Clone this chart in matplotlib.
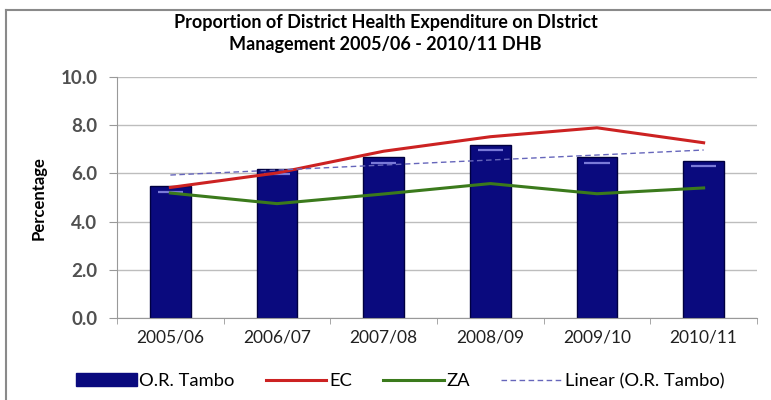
"""
Proportion of district health expenditure on district management,
O.R. Tambo vs EC vs ZA, 2005/06 - 2010/11 -> out.png
"""
import numpy as np
import matplotlib
matplotlib.use("Agg")
import matplotlib.pyplot as plt
from matplotlib.lines import Line2D

years = ["2005/06", "2006/07", "2007/08", "2008/09", "2009/10", "2010/11"]
or_tambo = [5.47, 6.19, 6.67, 7.18, 6.67, 6.53]
ec = [5.42, 6.02, 6.92, 7.52, 7.89, 7.27]
za = [5.19, 4.75, 5.15, 5.58, 5.16, 5.40]
yticks = [0.0, 2.0, 4.0, 6.0, 8.0, 10.0]

plt.rcParams["font.family"] = ["Lato", "DejaVu Sans"]

x = np.arange(len(years))
trend = np.polyval(np.polyfit(x, or_tambo, 1), x)   # Excel-style linear trendline

fig = plt.figure(figsize=(7.71, 4.0), dpi=100)
ax = fig.add_axes([0.1518, 0.204, 0.830, 0.604])

ax.bar(x, or_tambo, width=0.38, color="#0a0a7e", edgecolor="#000040",
       linewidth=1.0, zorder=2, label="O.R. Tambo")
# little highlight near the top of each bar (the 3D bevel in the original)
for xi, h in zip(x, or_tambo):
    ax.plot([xi - 0.12, xi + 0.12], [h - 0.22, h - 0.22], color="#7a7ad8",
            lw=1.6, solid_capstyle="butt", zorder=3)

ax.plot(x, ec, color="#cc2222", lw=2.2, zorder=4, label="EC")
ax.plot(x, za, color="#3b7a1c", lw=2.2, zorder=4, label="ZA")
ax.plot(x, trend, color="#6666bb", lw=1.0, ls=(0, (4, 2.5)), zorder=4,
        label="Linear (O.R. Tambo)")

ax.set_xlim(-0.5, len(years) - 0.5)
ax.set_ylim(0, 10)
ax.set_yticks(yticks)
ax.set_yticklabels([f"{v:.1f}" for v in yticks], fontsize=13.5, color="#505050",
                   fontweight="bold")
ax.set_xticks(x)
ax.set_xticklabels(years, fontsize=12.5, color="#202020")
ax.set_xticks(np.arange(-0.5, len(years)), minor=True)
ax.tick_params(axis="x", which="major", length=0, pad=8)
ax.tick_params(axis="x", which="minor", length=4, color="#999999")
ax.tick_params(axis="y", length=6, color="#999999", pad=8)
ax.grid(axis="y", color="#bdbdbd", lw=1.0, zorder=0)
ax.set_axisbelow(True)
for s in ("top", "right"):
    ax.spines[s].set_visible(False)
ax.spines["left"].set_color("#999999")
ax.spines["bottom"].set_color("#999999")

ax.set_ylabel("Percentage", fontsize=12, fontweight="bold", labelpad=10)
fig.suptitle("Proportion of District Health Expenditure on DIstrict\n"
             "Management 2005/06 - 2010/11 DHB",
             x=0.5, y=0.965, fontsize=13, fontweight="bold", linespacing=1.35)

fig.legend(loc="center", bbox_to_anchor=(0.519, 0.047), ncol=4, frameon=False,
           fontsize=13.2, handlelength=3.3, handletextpad=0.15, columnspacing=1.7,
           handles=[plt.Rectangle((0, 0), 1, 1, color="#0a0a7e"),
                    Line2D([], [], color="#cc2222", lw=2.2),
                    Line2D([], [], color="#3b7a1c", lw=2.2),
                    Line2D([], [], color="#6666bb", lw=1.0, ls=(0, (4, 2.5)))],
           labels=["O.R. Tambo", "EC", "ZA", "Linear (O.R. Tambo)"])

# chart-area border (left and top edges are all that show in the crop)
fig.add_artist(Line2D([6 / 771, 6 / 771], [0, 1 - 10 / 400], color="#8a8a8a", lw=1.5))
fig.add_artist(Line2D([6 / 771, 1], [1 - 10 / 400, 1 - 10 / 400], color="#8a8a8a", lw=1.5))

fig.savefig("out.png", dpi=100)
plt.close(fig)
